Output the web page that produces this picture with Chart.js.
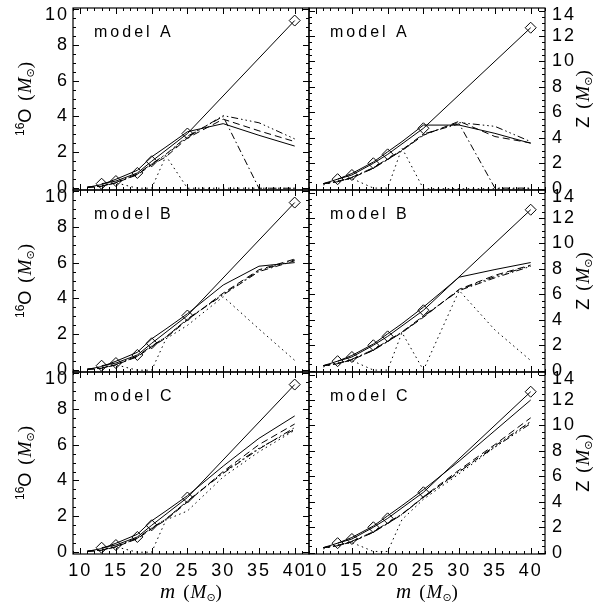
<!DOCTYPE html>
<html>
<head>
<meta charset="utf-8">
<script src="https://cdn.jsdelivr.net/npm/chart.js"></script>
<style>
  body { margin: 0; background: #fff; }
  #wrap { position: relative; width: 605px; height: 606px; }
  #wrap canvas { position: absolute; left: 0; top: 0; }
</style>
</head>
<body>
<div id="wrap"></div>
<script>
// masses of the models and of the reference (diamond) yields
const masses = [11, 13, 15, 18, 20, 22, 25, 30, 35, 40];
const refMasses = [13, 15, 18, 20, 25, 40];
const refO = [0.25, 0.4, 0.85, 1.5, 3.05, 9.35];
const refZ = [0.75, 1.08, 2.0, 2.7, 4.75, 12.65];

const xTicks = [10, 15, 20, 25, 30, 35, 40];
const oTicks = [0, 2, 4, 6, 8, 10];
const zTicks = [0, 2, 4, 6, 8, 10, 12, 14];
const models = ['model A', 'model B', 'model C'];

// 16O yields
const oA_solid   = [0.05, 0.2, 0.5, 1.0, 1.75, 2.3, 3.15, 3.6, 2.95, 2.35];
const oA_dash    = [0.05, 0.1, 0.3, 0.75, 1.3, 1.75, 2.8, 3.85, 3.2, 2.6];
const oA_dashdot = [0.05, 0.12, 0.32, 0.8, 1.35, 1.9, 2.9, 4.0, 0, 0];
const oA_dash3   = [0.05, 0.12, 0.3, 0.78, 1.35, 1.85, 2.85, 4.05, 3.65, 2.75];
const oA_dot     = [0.05, 0.15, 0.3, 0, 0, 1.8, 0, 0, 0, 0];

const oB_solid   = [0.05, 0.2, 0.5, 1.0, 1.75, 2.3, 3.15, 4.75, 5.8, 6.0];
const oB_dash    = [0.05, 0.1, 0.3, 0.75, 1.3, 1.8, 2.8, 4.3, 5.6, 6.2];
const oB_dashdot = [0.05, 0.12, 0.32, 0.8, 1.35, 1.85, 2.85, 4.2, 5.5, 6.1];
const oB_dash3   = [0.05, 0.12, 0.3, 0.78, 1.33, 1.85, 2.85, 4.25, 5.55, 6.15];
const oB_dot     = [0.05, 0.15, 0.3, 0, 0, 1.75, 2.5, 4.1, 2.3, 0.55];

const oC_solid   = [0.05, 0.2, 0.5, 1.0, 1.75, 2.3, 3.15, 4.8, 6.35, 7.6];
const oC_dash    = [0.05, 0.1, 0.3, 0.75, 1.3, 1.8, 2.8, 4.5, 6.0, 7.15];
const oC_dashdot = [0.05, 0.12, 0.32, 0.8, 1.35, 1.85, 2.85, 4.4, 5.75, 6.95];
const oC_dash3   = [0.05, 0.12, 0.3, 0.78, 1.33, 1.85, 2.85, 4.45, 5.8, 6.85];
const oC_dot     = [0.05, 0.15, 0.3, 0, 0, 1.8, 2.3, 4.2, 5.6, 6.8];

// metal (Z) yields
const zA_solid   = [0.4, 0.75, 1.2, 2.1, 2.9, 3.7, 5.0, 5.0, 4.35, 3.57];
const zA_dash    = [0.4, 0.55, 0.85, 1.6, 2.3, 3.0, 4.2, 5.3, 4.1, 3.6];
const zA_dashdot = [0.4, 0.58, 0.9, 1.65, 2.35, 3.05, 4.3, 5.1, 0.05, 0.05];
const zA_dash3   = [0.4, 0.55, 0.88, 1.62, 2.3, 3.0, 4.25, 5.2, 4.9, 3.7];
const zA_dot     = [0.3, 0.6, 0.8, 0.05, 0.05, 3.2, 0, 0, 0, 0];

const zB_solid   = [0.4, 0.75, 1.2, 2.1, 2.9, 3.7, 5.0, 7.35, 7.95, 8.5];
const zB_dash    = [0.4, 0.55, 0.85, 1.6, 2.3, 3.0, 4.2, 6.4, 7.5, 8.3];
const zB_dashdot = [0.4, 0.58, 0.9, 1.65, 2.35, 3.05, 4.3, 6.3, 7.3, 8.2];
const zB_dash3   = [0.4, 0.55, 0.88, 1.62, 2.3, 3.0, 4.25, 6.35, 7.4, 8.25];
const zB_dot     = [0.3, 0.6, 0.8, 0.05, 0.05, 3.0, 0.05, 6.3, 3.2, 0.8];

const zC_solid   = [0.4, 0.75, 1.2, 2.1, 2.9, 3.7, 4.95, 7.2, 9.6, 12.0];
const zC_dash    = [0.4, 0.55, 0.85, 1.6, 2.3, 3.0, 4.4, 6.5, 8.5, 10.6];
const zC_dashdot = [0.4, 0.58, 0.9, 1.65, 2.35, 3.05, 4.35, 6.35, 8.4, 10.3];
const zC_dash3   = [0.4, 0.55, 0.88, 1.62, 2.3, 3.0, 4.35, 6.4, 8.3, 10.15];
const zC_dot     = [0.3, 0.6, 0.8, 0.1, 0.1, 2.6, 4.2, 6.2, 8.3, 10.3];

// solid, dashed, dash-dot, dash-dot-dot-dot, dotted
const lineDash = [[], [7, 4], [7, 3, 1.5, 3], [7, 3, 1.5, 3, 1.5, 3, 1.5, 3], [1.5, 3.5]];

const sans = '"Liberation Sans"';
const serif = '"Liberation Serif"';
const rowTop = [8, 190, 372];
const rowH = 182;

function rich(ctx, parts, x, y, rot) {
  ctx.save();
  ctx.translate(x, y);
  ctx.rotate(rot);
  ctx.fillStyle = '#000';
  ctx.textAlign = 'left';
  ctx.textBaseline = 'alphabetic';
  ctx.letterSpacing = '0px';
  const ws = parts.map(p => { ctx.font = p.f; return ctx.measureText(p.t).width + (p.g || 0); });
  let cx = -ws.reduce((a, b) => a + b, 0) / 2;
  parts.forEach((p, i) => { ctx.font = p.f; ctx.fillText(p.t, cx, p.dy || 0); cx += ws[i]; });
  ctx.restore();
}

const msun = [
  { t: '(', f: `19px ${serif}`, g: 1 },
  { t: 'M', f: `italic 19px ${serif}` },
  { t: '\u2299', f: '11px "DejaVu Sans"', dy: 3 },
  { t: ')', f: `19px ${serif}` }
];
const oTitle = [{ t: '16', f: `12px ${sans}`, dy: -7 }, { t: 'O', f: `18px ${sans}`, g: 8 }].concat(msun);
const zTitle = [{ t: 'Z', f: `18px ${sans}`, g: 8 }].concat(msun);
const mTitle = [{ t: 'm', f: `italic 21px ${serif}`, g: 8 }].concat(msun);

function panelPlugin(row, side) {
  return {
    id: 'panel',
    beforeDraw(chart) {
      chart.ctx.letterSpacing = '2px';
    },
    afterDraw(chart) {
      const { ctx, chartArea: a, scales } = chart;
      const x = scales.x, y = scales.y;
      ctx.save();
      ctx.strokeStyle = '#000';
      ctx.lineWidth = 1.2;
      ctx.strokeRect(a.left, a.top, a.right - a.left, a.bottom - a.top);
      ctx.lineWidth = 1;
      ctx.beginPath();
      for (let v = Math.ceil(x.min); v <= x.max; v++) {
        const px = Math.round(x.getPixelForValue(v)) + 0.5;
        const len = v % 5 === 0 ? 6 : 3;
        ctx.moveTo(px, a.bottom); ctx.lineTo(px, a.bottom - len);
        ctx.moveTo(px, a.top); ctx.lineTo(px, a.top + len);
      }
      for (let i = Math.ceil(y.min * 2); i <= Math.floor(y.max * 2); i++) {
        const py = Math.round(y.getPixelForValue(i / 2)) + 0.5;
        const len = i % 4 === 0 ? 6 : 3;
        ctx.moveTo(a.left, py); ctx.lineTo(a.left + len, py);
        ctx.moveTo(a.right, py); ctx.lineTo(a.right - len, py);
      }
      ctx.stroke();
      ctx.fillStyle = '#000';
      ctx.font = `16px ${sans}`;
      ctx.letterSpacing = '3px';
      ctx.textAlign = 'left';
      ctx.textBaseline = 'alphabetic';
      ctx.fillText(models[row], a.left + 21, a.top + 29);
      ctx.restore();
      const cy = (a.top + a.bottom) / 2;
      if (side === 'left') rich(ctx, oTitle, 31, cy, -Math.PI / 2);
      else rich(ctx, zTitle, 589, cy, -Math.PI / 2);
      if (row === 2) rich(ctx, mTitle, (a.left + a.right) / 2, 598, 0);
    }
  };
}

function panel(row, side, ref, sets) {
  const left = side === 'left';
  const top = rowTop[row];
  const bottom = top + rowH;
  const last = row === 2;
  const cv = document.createElement('canvas');
  cv.width = 605;
  cv.height = 606;
  document.getElementById('wrap').appendChild(cv);
  const datasets = [{
    data: refMasses.map((m, i) => ({ x: m, y: ref[i] })),
    borderColor: '#000', borderWidth: 1,
    pointStyle: 'rectRot', pointRadius: 5.5, pointBorderWidth: 1,
    pointBorderColor: '#000', pointBackgroundColor: 'rgba(0,0,0,0)'
  }].concat(sets.map((s, k) => ({
    data: masses.map((m, i) => ({ x: m, y: s[i] })),
    borderColor: '#000', borderWidth: 1, borderDash: lineDash[k], pointRadius: 0
  })));
  const yt = left ? oTicks : zTicks;
  const topTick = yt[yt.length - 1];
  new Chart(cv, {
    type: 'line',
    data: { datasets },
    options: {
      responsive: false,
      animation: false,
      events: [],
      layout: {
        autoPadding: false,
        padding: { left: left ? 0 : 309, right: left ? 296 : 0, top, bottom: last ? 0 : 606 - bottom }
      },
      plugins: { legend: { display: false }, tooltip: { enabled: false } },
      scales: {
        x: {
          type: 'linear', min: 9, max: 42, display: last,
          grid: { display: false, drawTicks: false }, border: { display: false },
          afterBuildTicks: s => { s.ticks = xTicks.map(v => ({ value: v })); },
          afterFit: s => { if (last) s.height = 52; s.paddingLeft = 0; s.paddingRight = 0; },
          ticks: { color: '#000', padding: 6, maxRotation: 0, autoSkip: false, font: { family: 'Liberation Sans', size: 18 } }
        },
        y: {
          type: 'linear', position: side, min: -0.1, max: left ? 10.05 : 14.2,
          grid: { display: false, drawTicks: false }, border: { display: false },
          afterBuildTicks: s => { s.ticks = yt.map(v => ({ value: v })); },
          afterFit: s => { s.width = left ? 73 : 60; s.paddingTop = 0; s.paddingBottom = 0; },
          ticks: {
            color: '#000', padding: left ? 4 : 7, autoSkip: false,
            font: { family: 'Liberation Sans', size: 18, lineHeight: left ? 0.7 : 0.45 },
            callback: v => v === topTick ? ['', String(v)] : String(v)
          }
        }
      }
    },
    plugins: [panelPlugin(row, side)]
  });
}

panel(0, 'left', refO, [oA_solid, oA_dash, oA_dashdot, oA_dash3, oA_dot]);
panel(0, 'right', refZ, [zA_solid, zA_dash, zA_dashdot, zA_dash3, zA_dot]);
panel(1, 'left', refO, [oB_solid, oB_dash, oB_dashdot, oB_dash3, oB_dot]);
panel(1, 'right', refZ, [zB_solid, zB_dash, zB_dashdot, zB_dash3, zB_dot]);
panel(2, 'left', refO, [oC_solid, oC_dash, oC_dashdot, oC_dash3, oC_dot]);
panel(2, 'right', refZ, [zC_solid, zC_dash, zC_dashdot, zC_dash3, zC_dot]);
</script>
</body>
</html>
